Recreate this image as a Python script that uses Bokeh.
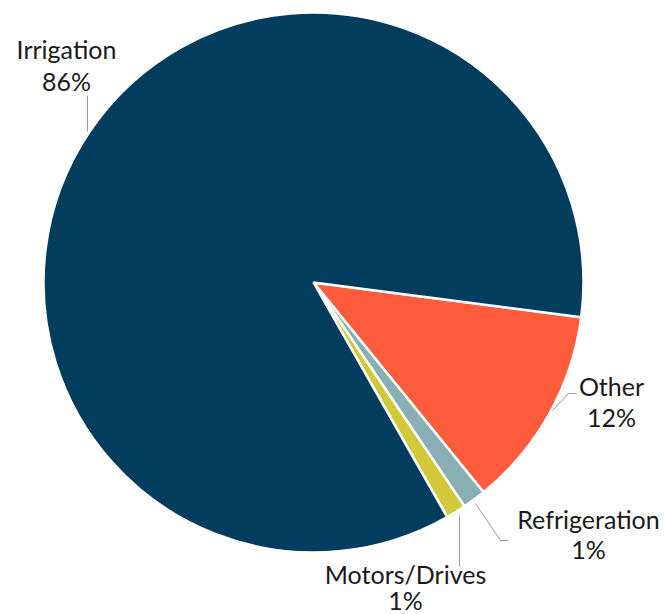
import numpy as np
from bokeh.plotting import figure
from bokeh.models import Range1d
from bokeh.core.properties import value
from bokeh.embed import file_html
from bokeh.resources import INLINE

# Data (order: clockwise starting just below 3 o'clock)
categories = ["Other", "Refrigeration", "Motors/Drives", "Irrigation"]
shares = [12.1, 1.4, 1.2, 85.3]
pct_labels = ["12%", "1%", "1%", "86%"]
colors = ["#FF5B3D", "#88AFB4", "#D2C93A", "#033D5E"]

W, H = 666, 614
p = figure(width=W, height=H, output_backend="svg", toolbar_location=None,
           x_range=Range1d(0, W), y_range=Range1d(0, H), min_border=0)
p.axis.visible = False
p.grid.visible = False
p.outline_line_color = None
p.background_fill_color = "white"

def fx(x):
    return x

def fy(y):
    return H - y

cx, cy, r = fx(313), fy(282), 270
start0 = np.deg2rad(-7.4)
fr = np.array(shares) / sum(shares) * 2 * np.pi
ends = start0 - np.cumsum(fr)
starts = np.concatenate([[start0], ends[:-1]])

p.wedge(x=cx, y=cy, radius=r, start_angle=starts, end_angle=ends,
        direction="clock", fill_color=colors, line_color="white", line_width=2.5)

font = value("Lato")
tcol = "#1a1a1a"
lab_pos = {
    "Irrigation": (66, 48, 80),
    "Other": (611, 385, 416),
    "Refrigeration": (588, 518, 548),
    "Motors/Drives": (405, 573, 599),
}
for cat, pl in zip(categories, pct_labels):
    x, y1, y2 = lab_pos[cat]
    p.text(x=[fx(x), fx(x)], y=[fy(y1), fy(y2)], text=[cat, pl],
           text_align="center", text_baseline="middle", text_font=font,
           text_font_size="25px", text_color=tcol)

lc = "#9a9a9a"
p.line([fx(87), fx(87)], [fy(95), fy(131)], line_color=lc, line_width=1)
p.line([fx(552), fx(568), fx(576)], [fy(410), fy(393), fy(393)], line_color=lc, line_width=1)
p.line([fx(475), fx(500), fx(508)], [fy(503), fy(540), fy(540)], line_color=lc, line_width=1)
p.line([fx(459), fx(459)], [fy(515), fy(566)], line_color=lc, line_width=1)

open("out.html", "w").write(file_html(p, INLINE))
